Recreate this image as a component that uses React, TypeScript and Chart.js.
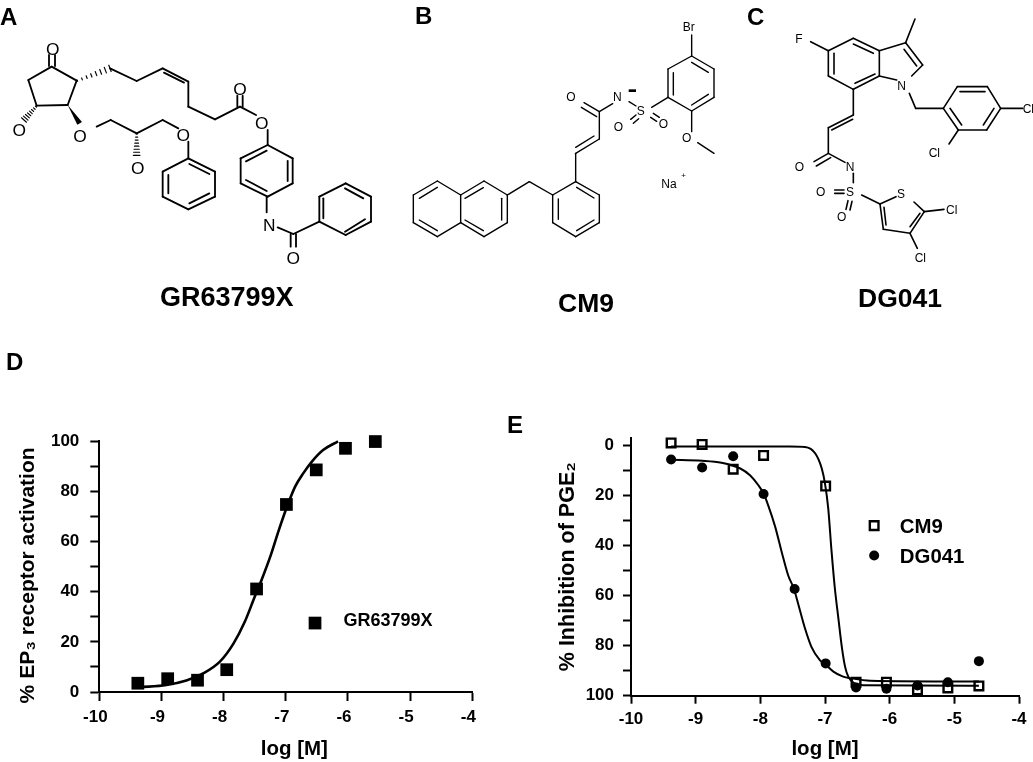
import React, { useEffect, useRef } from "react";
import { Chart, registerables } from "chart.js";

Chart.register(...registerables);

/* ---------- chart data ---------- */
const xTickValues = [-10, -9, -8, -7, -6, -5, -4];

const gr63799xX = [-9.38, -8.9, -8.42, -7.95, -7.47, -6.99, -6.51, -6.04, -5.56];
const gr63799xY = [3.5, 5.3, 4.7, 8.9, 41.1, 74.8, 88.6, 97.2, 99.9];
const gr63799xCurveX = [-9.35, -8.92, -8.6, -8.33, -8.06, -7.84, -7.66, -7.5, -7.39, -7.25, -7.12, -6.99, -6.85, -6.72, -6.58, -6.4, -6.16];
const gr63799xCurveY = [1.9, 2.8, 4.6, 7.4, 12.1, 19.4, 28, 38, 44.7, 54, 64, 73.3, 81.9, 87.2, 91.9, 96.5, 100];
const legendDX = [-6.53];
const legendDY = [27.5];

const cm9X = [-9.38, -8.9, -8.42, -7.95, -6.99, -6.52, -6.05, -5.57, -5.1, -4.62];
const cm9Y = [-0.9, -0.3, 9.6, 4.1, 16.3, 94.6, 94.6, 97.7, 96.9, 96.1];
const cm9CurveX = [-9.38, -8.9, -7.95, -7.54, -7.31, -7.15, -7.05, -7, -6.95, -6.9, -6.85, -6.79, -6.74, -6.69, -6.64, -6.55, -6.4, -4.62];
const cm9CurveY = [0.5, 0.5, 0.5, 0.5, 0.7, 3.3, 9.3, 15.3, 25.2, 41.9, 56.5, 69.8, 80.5, 88.4, 92.4, 95, 95.8, 96];

const dg041X = [-9.38, -8.9, -8.42, -7.95, -7.47, -6.99, -6.52, -6.05, -5.57, -5.1, -4.62];
const dg041Y = [5.7, 8.9, 4.4, 19.5, 57.4, 87.1, 96.7, 97.2, 95.9, 94.6, 86.2];
const dg041CurveX = [-9.38, -8.9, -8.6, -8.31, -8.16, -8.03, -7.95, -7.88, -7.77, -7.67, -7.57, -7.48, -7.41, -7.31, -7.21, -7.08, -7, -6.87, -6.72, -6.59, -6.3, -4.62];
const dg041CurveY = [5.8, 6.2, 7, 9.3, 12, 16, 19.3, 23.9, 32.6, 42.6, 51.9, 57.4, 63.8, 73.1, 80.5, 85.8, 87.4, 90.4, 92.4, 93.1, 94, 94.3];

const legendEX = [-6.24];
const legendCm9Y = [32.1];
const legendDgY = [44];

const yTicksD = [0, 10, 20, 30, 40, 50, 60, 70, 80, 90, 100];
const yTicksE = [0, 10, 20, 30, 40, 50, 60, 70, 80, 90, 100];

const FONT = '"Liberation Sans", Arial, sans-serif';

const zip = (xs: number[], ys: number[]) => xs.map((x, i) => ({ x, y: ys[i] }));

/* ---------- structure drawings (not data marks): segments in a 3x drawing grid ---------- */
type Seg = [number, number, number, number];
type Atom = [string, number, number];

const bondsA: Seg[] = [
  [147, 198, 147, 165], [165, 198, 165, 165],
  [155, 200, 230, 242], [230, 242, 203, 315], [203, 315, 110, 317], [110, 317, 85, 240], [85, 240, 155, 200],
  [330, 205, 410, 243], [410, 243, 488, 205], [488, 205, 565, 245], [492, 218, 552, 248], [565, 245, 565, 320], [565, 320, 645, 358], [645, 358, 720, 320],
  [712, 320, 712, 287], [728, 320, 728, 287], [720, 320, 768, 345],
  [803, 390, 803, 435],
  [803, 435, 878, 475], [878, 475, 878, 550], [878, 550, 803, 590], [803, 590, 722, 550], [722, 550, 722, 475], [722, 475, 803, 435],
  [800, 452, 738, 484], [863, 483, 863, 543], [738, 540, 800, 573],
  [800, 590, 800, 637], [833, 682, 880, 702], [872, 702, 872, 740], [888, 702, 888, 740], [880, 702, 958, 665],
  [958, 665, 958, 590], [958, 590, 1037, 550], [1037, 550, 1113, 590], [1113, 590, 1113, 665], [1113, 665, 1037, 705], [1037, 705, 958, 665],
  [970, 595, 970, 655], [1035, 565, 1090, 595], [1035, 695, 1095, 658],
  [290, 380, 332, 360], [332, 360, 410, 400], [410, 400, 488, 360], [488, 360, 535, 385],
  [565, 425, 565, 475],
  [565, 475, 645, 515], [645, 515, 645, 590], [645, 590, 565, 628], [565, 628, 488, 590], [488, 590, 488, 515], [488, 515, 565, 475],
  [568, 492, 628, 522], [505, 525, 505, 580], [568, 610, 628, 580],
];
const atomsA: Atom[] = [
  ["O", 158, 146], ["O", 720, 268], ["O", 785, 368], ["N", 808, 676], ["O", 880, 775],
  ["O", 58, 389], ["O", 240, 408], ["O", 550, 406], ["O", 413, 503],
];
const hashesA: Seg[] = [[232, 242, 330, 205], [108, 320, 72, 360], [410, 402, 410, 466]];

const bondsB: Seg[] = [
  [40, 585, 112, 543], [112, 543, 182, 585], [182, 585, 182, 668], [182, 668, 112, 710], [112, 710, 40, 668], [40, 668, 40, 585],
  [58, 595, 112, 562], [58, 660, 112, 692],
  [182, 585, 252, 543], [252, 543, 322, 585], [322, 585, 322, 668], [322, 668, 252, 710], [252, 710, 182, 668],
  [195, 595, 250, 563], [195, 660, 250, 692], [305, 595, 305, 660],
  [322, 585, 388, 545], [388, 545, 458, 585],
  [458, 585, 527, 545], [527, 545, 598, 585], [598, 585, 598, 668], [598, 668, 527, 710], [527, 710, 458, 668], [458, 668, 458, 585],
  [530, 562, 582, 594], [475, 597, 475, 658], [530, 692, 582, 660],
  [527, 545, 527, 460], [527, 460, 598, 417], [527, 442, 582, 408], [598, 417, 598, 335],
  [598, 335, 552, 308], [590, 350, 544, 322], [598, 335, 638, 311],
  [687, 305, 708, 318], [692, 358, 708, 345], [700, 370, 716, 356], [760, 340, 778, 352], [752, 352, 770, 364],
  [755, 322, 804, 292],
  [804, 292, 804, 207], [804, 207, 875, 168], [875, 168, 942, 207], [942, 207, 942, 292], [942, 292, 875, 333], [875, 333, 804, 292],
  [820, 285, 820, 218], [875, 187, 925, 217], [875, 315, 925, 283],
  [875, 168, 875, 105], [875, 333, 875, 395], [893, 428, 942, 460],
];
const atomsB: Atom[] = [
  ["Br", 866, 80], ["O", 513, 290], ["N", 652, 290], ["S", 722, 333], ["O", 655, 380], ["O", 790, 373], ["O", 860, 413], ["Na", 807, 553],
];

const bondsC: Seg[] = [
  [525, 57, 497, 128], [497, 128, 548, 195], [548, 195, 515, 228], [492, 148, 530, 198], [470, 240, 418, 228], [418, 228, 418, 152], [418, 152, 497, 128],
  [418, 152, 340, 115], [340, 115, 265, 152], [265, 152, 265, 228], [265, 228, 340, 268], [340, 268, 418, 228],
  [340, 132, 400, 160], [282, 160, 282, 222], [345, 250, 405, 222],
  [212, 125, 265, 152],
  [340, 268, 340, 345], [340, 345, 265, 383], [275, 390, 338, 358], [265, 383, 265, 460],
  [265, 460, 222, 485], [272, 473, 229, 498], [265, 460, 315, 487], [340, 520, 340, 548],
  [284, 570, 312, 570], [284, 580, 312, 580], [324, 602, 318, 628], [336, 604, 330, 630],
  [365, 585, 420, 612], [420, 612, 468, 590], [522, 606, 553, 635], [553, 635, 510, 700], [510, 700, 430, 688], [430, 688, 420, 612],
  [432, 622, 438, 675], [510, 680, 540, 640],
  [553, 635, 612, 628], [510, 700, 532, 745],
  [508, 280, 527, 325], [527, 325, 610, 325],
  [610, 325, 652, 260], [652, 260, 742, 260], [742, 260, 782, 325], [782, 325, 740, 390], [740, 390, 655, 390], [655, 390, 610, 325],
  [660, 275, 735, 275], [762, 325, 730, 375], [630, 325, 665, 375],
  [782, 325, 848, 325], [655, 390, 627, 432],
];
const atomsC: Atom[] = [
  ["F", 177, 118], ["N", 485, 257], ["Cl", 865, 328], ["Cl", 583, 460], ["O", 178, 500], ["N", 330, 500],
  ["O", 242, 575], ["S", 330, 575], ["O", 305, 650], ["S", 483, 583], ["Cl", 635, 630], ["Cl", 541, 775],
];

function hashLines([x1, y1, x2, y2]: Seg, key: number) {
  const n = 8;
  const len = Math.hypot(x2 - x1, y2 - y1);
  const nx = -(y2 - y1) / len;
  const ny = (x2 - x1) / len;
  const out: React.ReactNode[] = [];
  for (let i = 0; i < n; i++) {
    const t = i / (n - 1);
    const px = x1 + (x2 - x1) * t;
    const py = y1 + (y2 - y1) * t;
    const h = 2 + 8 * t;
    out.push(<line key={`${key}-${i}`} x1={px - nx * h} y1={py - ny * h} x2={px + nx * h} y2={py + ny * h} strokeWidth={3.5} />);
  }
  return out;
}

function Structure({ ox, oy, bonds, atoms, sw, fs, weight = 400, children }: any) {
  return (
    <g transform={`translate(${ox},${oy}) scale(${1 / 3})`} stroke="#000" fill="none" strokeWidth={sw} strokeLinecap="round">
      {bonds.map((b: Seg, i: number) => (
        <line key={i} x1={b[0]} y1={b[1]} x2={b[2]} y2={b[3]} />
      ))}
      {children}
      {atoms.map((a: Atom, i: number) => (
        <text key={i} x={a[1]} y={a[2]} textAnchor="middle" dominantBaseline="central" fontFamily={FONT} fontSize={fs} fontWeight={weight} fill="#000" stroke="none">
          {a[0]}
        </text>
      ))}
    </g>
  );
}

/* ---------- inline legend text plugin ---------- */
const inlineLabels = {
  id: "inlineLabels",
  afterDatasetsDraw(chart: any, _a: any, opts: any) {
    const { ctx, scales } = chart;
    ctx.save();
    ctx.fillStyle = "#000";
    ctx.textBaseline = "middle";
    ctx.textAlign = "left";
    (opts.items || []).forEach((it: any) => {
      ctx.font = `bold ${it.size}px ${FONT}`;
      ctx.fillText(it.text, scales.x.getPixelForValue(it.x) + it.dx, scales.y.getPixelForValue(it.y) + it.dy);
    });
    ctx.restore();
  },
};

const axisGrid = (tickLength: number) => ({ display: true, drawOnChartArea: false, drawTicks: true, tickLength, tickColor: "#000", tickWidth: 2 });
const axisBorder = { display: true, color: "#000", width: 2 };

function scatterBase(extra: any) {
  return { type: "scatter", clip: false, showLine: false, ...extra };
}

export default function App() {
  const refD = useRef<HTMLCanvasElement>(null);
  const refE = useRef<HTMLCanvasElement>(null);

  useEffect(() => {
    const chartD = new Chart(refD.current as any, {
      type: "scatter",
      plugins: [inlineLabels],
      data: {
        datasets: [
          scatterBase({
            label: "GR63799X fit",
            data: zip(gr63799xCurveX, gr63799xCurveY),
            showLine: true,
            borderColor: "#000",
            borderWidth: 2.6,
            pointRadius: 0,
            cubicInterpolationMode: "monotone",
          }),
          scatterBase({
            label: "GR63799X",
            data: zip(gr63799xX, gr63799xY),
            pointStyle: "rect",
            pointRadius: 9,
            pointBackgroundColor: "#000",
            pointBorderWidth: 0,
          }),
          scatterBase({
            label: "GR63799X legend",
            data: zip(legendDX, legendDY),
            pointStyle: "rect",
            pointRadius: 9,
            pointBackgroundColor: "#000",
            pointBorderWidth: 0,
          }),
        ],
      } as any,
      options: {
        animation: false,
        responsive: false,
        layout: { padding: { left: 0, top: 41.3, right: 27.7, bottom: 0 } },
        plugins: {
          legend: { display: false },
          tooltip: { enabled: false },
          inlineLabels: { items: [{ text: "GR63799X", x: legendDX[0], y: legendDY[0], dx: 28.5, dy: -2.5, size: 18 }] },
        } as any,
        scales: {
          x: {
            type: "linear",
            min: -10,
            max: -4,
            afterFit: (s: any) => { s.height = 70; },
            afterBuildTicks: (s: any) => { s.ticks = xTickValues.map((value) => ({ value })); },
            grid: axisGrid(9),
            border: axisBorder,
            ticks: { autoSkip: false, maxRotation: 0, color: "#000", font: { family: FONT, size: 17, weight: "bold" }, padding: 6, labelOffset: -4, callback: (v: any) => String(v) },
            title: { display: true, text: "   log [M]", color: "#000", font: { family: FONT, size: 20.5, weight: "bold" }, padding: { top: 0, bottom: 0 } },
          },
          y: {
            type: "linear",
            min: 0,
            max: 100,
            afterFit: (s: any) => { s.width = 99.3; },
            afterBuildTicks: (s: any) => { s.ticks = yTicksD.map((value) => ({ value })); },
            grid: axisGrid(9),
            border: axisBorder,
            ticks: { autoSkip: false, color: "#000", font: { family: FONT, size: 17, weight: "bold" }, padding: 11, callback: (v: any) => (Number(v) % 20 === 0 ? String(v) : "") },
            title: { display: true, text: "% EP\u2083 receptor activation   ", color: "#000", font: { family: FONT, size: 21, weight: "bold" }, padding: { top: 16, bottom: 0 } },
          },
        },
      } as any,
    });

    const chartE = new Chart(refE.current as any, {
      type: "scatter",
      plugins: [inlineLabels],
      data: {
        datasets: [
          scatterBase({ label: "CM9 fit", data: zip(cm9CurveX, cm9CurveY), showLine: true, borderColor: "#000", borderWidth: 2, pointRadius: 0, cubicInterpolationMode: "monotone" }),
          scatterBase({ label: "DG041 fit", data: zip(dg041CurveX, dg041CurveY), showLine: true, borderColor: "#000", borderWidth: 2, pointRadius: 0, cubicInterpolationMode: "monotone" }),
          scatterBase({ label: "DG041", data: zip(dg041X, dg041Y), pointStyle: "circle", pointRadius: 5, pointBackgroundColor: "#000", pointBorderWidth: 0 }),
          scatterBase({ label: "CM9", data: zip(cm9X, cm9Y), pointStyle: "rect", pointRadius: 6.1, pointBackgroundColor: "rgba(0,0,0,0)", pointBorderColor: "#000", pointBorderWidth: 2.4 }),
          scatterBase({ label: "CM9 legend", data: zip(legendEX, legendCm9Y), pointStyle: "rect", pointRadius: 6.1, pointBackgroundColor: "rgba(0,0,0,0)", pointBorderColor: "#000", pointBorderWidth: 2.4 }),
          scatterBase({ label: "DG041 legend", data: zip(legendEX, legendDgY), pointStyle: "circle", pointRadius: 5, pointBackgroundColor: "#000", pointBorderWidth: 0 }),
        ],
      } as any,
      options: {
        animation: false,
        responsive: false,
        layout: { padding: { left: 0, top: 37.7, right: 14, bottom: 0 } },
        plugins: {
          legend: { display: false },
          tooltip: { enabled: false },
          inlineLabels: {
            items: [
              { text: "CM9", x: legendEX[0], y: legendCm9Y[0], dx: 25.7, dy: 2, size: 20.4 },
              { text: "DG041", x: legendEX[0], y: legendDgY[0], dx: 25.7, dy: 2, size: 20.4 },
            ],
          },
        } as any,
        scales: {
          x: {
            type: "linear",
            min: -10,
            max: -4,
            afterFit: (s: any) => { s.height = 66.3; },
            afterBuildTicks: (s: any) => { s.ticks = xTickValues.map((value) => ({ value })); },
            grid: axisGrid(8),
            border: axisBorder,
            ticks: { autoSkip: false, maxRotation: 0, color: "#000", font: { family: FONT, size: 17, weight: "bold" }, padding: 5, callback: (v: any) => String(v) },
            title: { display: true, text: "log [M]", color: "#000", font: { family: FONT, size: 20.5, weight: "bold" }, padding: { top: 3, bottom: 0 } },
          },
          y: {
            type: "linear",
            min: -3,
            max: 100,
            reverse: true,
            afterFit: (s: any) => { s.width = 131; },
            afterBuildTicks: (s: any) => { s.ticks = yTicksE.map((value) => ({ value })); },
            grid: axisGrid(8),
            border: axisBorder,
            ticks: { autoSkip: false, color: "#000", font: { family: FONT, size: 17, weight: "bold" }, padding: 9, callback: (v: any) => (Number(v) % 20 === 0 ? String(v) : "") },
            title: { display: true, text: "% Inhibition of PGE\u2082", color: "#000", font: { family: FONT, size: 21.5, weight: "bold" }, padding: { top: 55, bottom: 0 } },
          },
        },
      } as any,
    });

    return () => {
      chartD.destroy();
      chartE.destroy();
    };
  }, []);

  const panelText = (t: string, x: number, y: number, size: number, extra: any = {}) => (
    <text x={x} y={y} fontFamily={FONT} fontWeight={700} fontSize={size} fill="#000" {...extra}>
      {t}
    </text>
  );

  return (
    <div style={{ position: "absolute", left: 0, top: 0, width: 1033, height: 762, background: "#fff", overflow: "hidden" }}>
      <canvas ref={refD} width={500} height={362} style={{ position: "absolute", left: 0, top: 400, width: 500, height: 362 }} />
      <canvas ref={refE} width={533} height={362} style={{ position: "absolute", left: 500, top: 400, width: 533, height: 362 }} />
      <svg width={1033} height={762} style={{ position: "absolute", left: 0, top: 0, pointerEvents: "none" }}>
        <Structure ox={0} oy={0} bonds={bondsA} atoms={atomsA} sw={5.5} fs={52}>
          {hashesA.map((h, i) => hashLines(h, i))}
          <polygon points="203,315 232,374 246,366" fill="#000" stroke="none" />
        </Structure>
        <Structure ox={400} oy={0} bonds={bondsB} atoms={atomsB} sw={4.2} fs={36}>
          <line x1={686} y1={272} x2={708} y2={272} strokeWidth={8} strokeLinecap="butt" />
          <text x={851} y={525} textAnchor="middle" dominantBaseline="central" fontFamily={FONT} fontSize={24} fill="#000" stroke="none">+</text>
        </Structure>
        <Structure ox={740} oy={0} bonds={bondsC} atoms={atomsC} sw={4.8} fs={36} />
        {panelText("A", 0, 25, 24)}
        {panelText("B", 415, 23.5, 24)}
        {panelText("C", 747, 25, 24)}
        {panelText("D", 6, 370, 24)}
        {panelText("E", 507, 433, 24)}
        {panelText("GR63799X", 160, 306, 27)}
        {panelText("CM9", 558, 312, 26.5)}
        {panelText("DG041", 858, 306.5, 26.5)}
      </svg>
    </div>
  );
}
